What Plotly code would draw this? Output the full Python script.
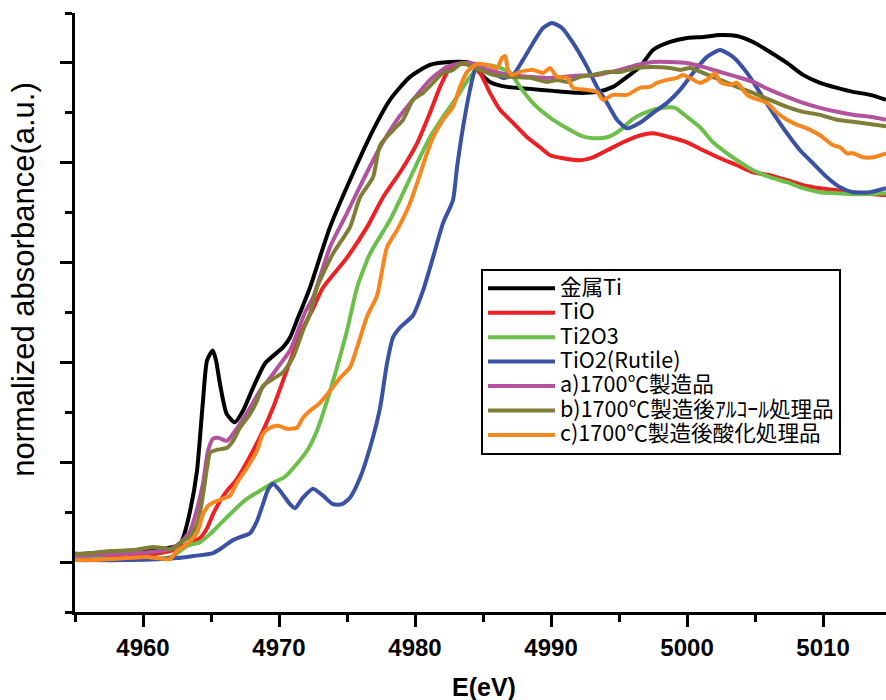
import plotly.graph_objects as go

# ---------------- data (energy in eV, normalized absorbance) ----------------
E_metal = [4955, 4958.3, 4961.8, 4962.7, 4962.94, 4963.46, 4963.97, 4964.41, 4964.71, 4965.13,
           4965.37, 4965.66, 4966.15, 4966.76, 4967.35, 4968.09, 4968.97, 4970.29, 4970.81, 4971.40,
           4971.91, 4972.28, 4973.75, 4975.44, 4976.91, 4978.16, 4979.63, 4981.10, 4982.57, 4984.04,
           4984.78, 4985.51, 4986.76, 4988.46, 4990.15, 4992.13, 4993.38, 4994.56, 4995.59, 4996.54,
           4997.50, 4998.75, 5000.0, 5001.18, 5002.43, 5003.68, 5004.85, 5006.10, 5007.35, 5008.53,
           5009.78, 5011.03, 5012.21, 5013.46, 5014.63]
A_metal = [0.016, 0.020, 0.028, 0.034, 0.048, 0.102, 0.183, 0.323, 0.404, 0.424,
           0.404, 0.357, 0.297, 0.280, 0.303, 0.349, 0.398, 0.430, 0.450, 0.490,
           0.524, 0.550, 0.671, 0.779, 0.865, 0.926, 0.972, 0.996, 1.002, 1.000,
           0.980, 0.962, 0.952, 0.948, 0.944, 0.940, 0.942, 0.952, 0.972, 0.992,
           1.026, 1.042, 1.050, 1.052, 1.056, 1.054, 1.042, 1.022, 1.000, 0.976,
           0.960, 0.950, 0.942, 0.936, 0.926]

E_TiO = [4955, 4959.04, 4961.99, 4963.24, 4964.19, 4964.71, 4965.15, 4965.66, 4966.18, 4966.76,
         4967.28, 4968.09, 4968.82, 4969.56, 4970.29, 4971.03, 4971.76, 4972.50, 4973.24, 4975.0,
         4976.47, 4977.65, 4978.90, 4980.15, 4981.10, 4981.84, 4982.57, 4983.31, 4984.04, 4984.78,
         4985.51, 4986.25, 4987.21, 4988.24, 4989.19, 4989.93, 4990.88, 4992.13, 4993.09, 4994.12,
         4995.29, 4996.32, 4997.50, 4998.75, 5000.0, 5001.18, 5002.43, 5003.68, 5004.85, 5006.10,
         5007.35, 5008.53, 5009.78, 5011.03, 5012.21, 5014.63]
A_TiO = [0.008, 0.010, 0.022, 0.036, 0.048, 0.068, 0.096, 0.122, 0.143, 0.161,
         0.183, 0.223, 0.263, 0.309, 0.363, 0.418, 0.468, 0.508, 0.550, 0.610,
         0.671, 0.731, 0.781, 0.839, 0.900, 0.952, 0.990, 0.998, 0.996, 0.980,
         0.940, 0.906, 0.880, 0.851, 0.831, 0.815, 0.809, 0.805, 0.811, 0.825,
         0.841, 0.853, 0.859, 0.851, 0.841, 0.825, 0.809, 0.795, 0.781, 0.775,
         0.765, 0.755, 0.749, 0.745, 0.741, 0.735]

E_Ti2O3 = [4955, 4961.99, 4963.24, 4964.19, 4964.93, 4965.66, 4966.62, 4967.65, 4968.60, 4969.56,
           4970.44, 4971.32, 4972.06, 4972.79, 4973.53, 4974.26, 4975.0, 4975.74, 4976.69, 4978.16,
           4979.12, 4980.15, 4981.10, 4982.06, 4983.09, 4984.04, 4984.78, 4985.29, 4986.03, 4986.99,
           4987.72, 4988.46, 4989.19, 4990.15, 4991.18, 4992.13, 4993.09, 4994.12, 4995.07, 4996.03,
           4997.06, 4998.24, 4999.12, 5000.0, 5000.96, 5001.91, 5002.94, 5003.90, 5004.85, 5006.10,
           5007.35, 5008.53, 5009.78, 5011.03, 5012.21, 5014.63]
A_Ti2O3 = [0.008, 0.010, 0.032, 0.040, 0.056, 0.076, 0.102, 0.127, 0.143, 0.159,
           0.171, 0.197, 0.223, 0.263, 0.323, 0.390, 0.464, 0.550, 0.618, 0.685,
           0.739, 0.799, 0.851, 0.892, 0.932, 0.972, 0.994, 0.996, 0.992, 0.980,
           0.952, 0.926, 0.906, 0.886, 0.869, 0.855, 0.849, 0.851, 0.865, 0.888,
           0.902, 0.910, 0.910, 0.892, 0.871, 0.841, 0.819, 0.801, 0.785, 0.771,
           0.761, 0.749, 0.741, 0.739, 0.737, 0.739]

E_TiO2 = [4955, 4959.04, 4962.5, 4963.68, 4965.15, 4965.88, 4966.62, 4967.35, 4967.87, 4968.38,
          4968.82, 4969.19, 4969.56, 4970.07, 4970.81, 4971.18, 4971.76, 4972.50, 4973.24, 4973.97,
          4974.63, 4975.22, 4975.96, 4976.69, 4977.43, 4977.94, 4978.38, 4978.90, 4979.85, 4980.59,
          4981.32, 4982.06, 4982.79, 4983.09, 4983.53, 4984.04, 4984.41, 4984.78, 4985.0, 4985.74,
          4986.47, 4987.21, 4987.94, 4988.68, 4989.41, 4990.07, 4990.81, 4991.62, 4992.65, 4993.38,
          4994.12, 4994.85, 4995.59, 4996.54, 4997.50, 4998.53, 4999.49, 5000.44, 5001.47, 5002.43,
          5003.38, 5004.41, 5005.37, 5006.32, 5007.35, 5008.31, 5009.26, 5010.29, 5011.25, 5012.21,
          5013.46, 5014.63]
A_TiO2 = [0.004, 0.004, 0.008, 0.012, 0.018, 0.030, 0.044, 0.052, 0.058, 0.082,
          0.116, 0.145, 0.157, 0.143, 0.116, 0.108, 0.129, 0.147, 0.133, 0.116,
          0.116, 0.129, 0.169, 0.229, 0.309, 0.398, 0.450, 0.470, 0.494, 0.544,
          0.610, 0.679, 0.725, 0.791, 0.871, 0.946, 0.986, 0.998, 0.990, 0.980,
          0.970, 0.976, 1.006, 1.040, 1.070, 1.080, 1.070, 1.040, 0.992, 0.952,
          0.920, 0.886, 0.869, 0.880, 0.900, 0.920, 0.946, 0.980, 1.012, 1.026,
          1.012, 0.980, 0.940, 0.900, 0.859, 0.825, 0.799, 0.771, 0.751, 0.741,
          0.741, 0.749]

E_a = [4955, 4958.31, 4960.51, 4961.99, 4962.72, 4963.46, 4963.97, 4964.41, 4964.78, 4965.15,
       4965.51, 4966.18, 4966.62, 4967.13, 4967.87, 4968.60, 4969.34, 4970.29, 4970.81, 4971.32,
       4971.91, 4972.50, 4973.75, 4975.0, 4976.18, 4977.43, 4978.68, 4979.85, 4981.10, 4982.35,
       4983.53, 4984.41, 4985.15, 4986.99, 4989.71, 4991.62, 4993.38, 4995.07, 4996.32, 4997.50,
       4998.75, 5000.0, 5001.18, 5002.43, 5003.68, 5004.85, 5006.10, 5007.35, 5008.53, 5009.78,
       5011.03, 5012.21, 5013.46, 5014.63]
A_a = [0.012, 0.016, 0.020, 0.026, 0.038, 0.062, 0.106, 0.157, 0.223, 0.247,
       0.249, 0.243, 0.257, 0.277, 0.309, 0.343, 0.369, 0.404, 0.424, 0.458,
       0.500, 0.530, 0.631, 0.699, 0.765, 0.831, 0.886, 0.926, 0.966, 0.992,
       1.000, 0.998, 0.988, 0.976, 0.970, 0.974, 0.976, 0.986, 0.996, 1.002,
       1.002, 1.000, 0.992, 0.982, 0.972, 0.962, 0.946, 0.932, 0.920, 0.910,
       0.902, 0.896, 0.892, 0.886]

E_b = [4955, 4955.37, 4957.57, 4959.26, 4960.74, 4961.47, 4962.21, 4962.72, 4963.46, 4963.97,
       4964.34, 4964.71, 4964.93, 4965.44, 4966.18, 4966.62, 4967.13, 4967.87, 4968.38, 4968.82,
       4969.56, 4970.29, 4971.03, 4971.76, 4972.28, 4972.79, 4973.97, 4975.22, 4975.96, 4976.91,
       4977.43, 4978.38, 4979.12, 4979.85, 4980.59, 4981.32, 4982.06, 4982.79, 4983.46, 4984.04,
       4984.78, 4985.74, 4987.21, 4988.46, 4989.71, 4990.44, 4991.18, 4992.13, 4993.09, 4994.12,
       4995.07, 4996.32, 4997.50, 4998.75, 4999.49, 5000.22, 5001.18, 5002.43, 5003.68, 5004.85,
       5006.10, 5007.35, 5008.53, 5009.78, 5011.03, 5012.21, 5014.63]
A_b = [0.018, 0.016, 0.022, 0.024, 0.030, 0.028, 0.026, 0.038, 0.052, 0.076,
       0.122, 0.189, 0.219, 0.225, 0.229, 0.243, 0.269, 0.297, 0.323, 0.353,
       0.367, 0.380, 0.410, 0.464, 0.498, 0.550, 0.618, 0.671, 0.731, 0.771,
       0.835, 0.865, 0.886, 0.926, 0.940, 0.960, 0.980, 0.986, 1.000, 0.994,
       0.986, 0.976, 0.972, 0.970, 0.962, 0.966, 0.962, 0.972, 0.976, 0.982,
       0.982, 0.990, 0.992, 0.990, 0.986, 0.990, 0.980, 0.966, 0.952, 0.940,
       0.926, 0.912, 0.902, 0.896, 0.886, 0.882, 0.873]

E_c = [4955, 4956.32, 4958.82, 4960.29, 4961.03, 4961.99, 4962.50, 4963.24, 4963.97, 4964.41,
       4964.93, 4965.88, 4966.40, 4966.91, 4967.65, 4968.38, 4968.82, 4969.34, 4969.93, 4970.59,
       4971.32, 4971.76, 4972.28, 4973.01, 4973.75, 4974.49, 4975.22, 4975.74, 4976.47, 4977.21,
       4977.94, 4978.68, 4979.63, 4980.15, 4980.88, 4981.32, 4982.06, 4982.79, 4983.31, 4983.82,
       4984.56, 4985.29, 4986.03, 4986.40, 4986.62, 4986.84, 4987.13, 4987.72, 4988.68, 4989.41,
       4989.93, 4990.44, 4991.18, 4991.62, 4992.65, 4993.38, 4993.82, 4994.56, 4995.59, 4996.54,
       4997.28, 4997.79, 4998.53, 4999.26, 4999.71, 5000.22, 5000.96, 5001.69, 5002.06, 5002.43,
       5003.16, 5003.68, 5004.41, 5004.85, 5005.88, 5006.62, 5007.35, 5008.09, 5008.82, 5009.78,
       5010.74, 5011.25, 5011.76, 5012.21, 5012.94, 5013.68, 5014.63]
A_c = [0.004, 0.004, 0.008, 0.010, 0.008, 0.006, 0.022, 0.036, 0.058, 0.096,
       0.116, 0.127, 0.133, 0.159, 0.189, 0.223, 0.257, 0.269, 0.273, 0.267,
       0.269, 0.289, 0.303, 0.319, 0.343, 0.369, 0.390, 0.430, 0.492, 0.534,
       0.631, 0.665, 0.719, 0.759, 0.819, 0.851, 0.886, 0.912, 0.952, 0.982,
       0.998, 0.996, 0.990, 1.010, 1.014, 0.986, 0.976, 0.982, 0.986, 0.980,
       0.990, 0.972, 0.970, 0.950, 0.946, 0.942, 0.926, 0.936, 0.936, 0.950,
       0.952, 0.960, 0.966, 0.970, 0.976, 0.970, 0.960, 0.970, 0.980, 0.962,
       0.956, 0.960, 0.936, 0.930, 0.920, 0.900, 0.886, 0.876, 0.869, 0.855,
       0.835, 0.831, 0.819, 0.819, 0.811, 0.811, 0.819]

NAMES = ["金属Ti", "TiO", "Ti2O3", "TiO2(Rutile)",
         "a)1700℃製造品", "b)1700℃製造後ｱﾙｺｰﾙ処理品", "c)1700℃製造後酸化処理品"]
COLORS = ["#000000", "#ED2024", "#6CBF4A", "#3A52A3", "#B3529F", "#7E7E36", "#F7861F"]
SERIES = [(E_metal, A_metal), (E_TiO, A_TiO), (E_Ti2O3, A_Ti2O3), (E_TiO2, A_TiO2),
          (E_a, A_a), (E_b, A_b), (E_c, A_c)]

X_TITLE = "E(eV)"
Y_TITLE = "normalized absorbance(a.u.)"

LEGEND_TEXT_PX = 21.6
JP_FONT = "Noto Sans CJK JP"
LAT_FONT = "Liberation Sans, Arial, sans-serif"

fig = go.Figure()
for (xs, ys), name, col in zip(SERIES, NAMES, COLORS):
    fig.add_trace(go.Scatter(
        x=xs, y=ys, mode="lines",
        name=f'<span style="font-size:{LEGEND_TEXT_PX}px">{name}</span>',
        line=dict(color=col, width=4, shape="spline", smoothing=0.6),
        hoverinfo="skip",
    ))

axis_common = dict(
    showline=True, linecolor="black", linewidth=3,
    ticks="outside", tickcolor="black", tickwidth=3, ticklen=12,
    showgrid=False, zeroline=False,
)

fig.update_layout(
    width=886, height=700,
    margin=dict(l=75, r=0, t=13, b=88),
    paper_bgcolor="white", plot_bgcolor="white",
    xaxis=dict(
        range=[4955, 5014.63], tick0=4960, dtick=10,
        tickfont=dict(family=LAT_FONT, size=24, color="black", weight="bold"),
        minor=dict(ticks="outside", ticklen=7, tickwidth=3, tickcolor="black",
                   tick0=4955, dtick=5),
        **axis_common,
    ),
    yaxis=dict(
        range=[-0.1, 1.1], tick0=0, dtick=0.2, showticklabels=False,
        minor=dict(ticks="outside", ticklen=7, tickwidth=3, tickcolor="black",
                   tick0=-0.1, dtick=0.1),
        **axis_common,
    ),
    legend=dict(
        x=0.5006, y=0.5726, xanchor="left", yanchor="top",
        bgcolor="white", bordercolor="black", borderwidth=2,
        font=dict(family=JP_FONT, size=16.5, color="black"),
        itemwidth=67, tracegroupgap=0,
    ),
    showlegend=True,
    annotations=[
        dict(text=X_TITLE, xref="paper", yref="paper", x=0.504, y=-0.125,
             xanchor="center", yanchor="middle", showarrow=False,
             font=dict(family=LAT_FONT, size=25, color="black", weight="bold")),
        dict(text=Y_TITLE, xref="paper", yref="paper", x=-0.063, y=0.556,
             xanchor="center", yanchor="middle", showarrow=False, textangle=-90,
             font=dict(family=LAT_FONT, size=31, color="black")),
    ],
)

# remove the default 8 px page margin so the 886x700 figure fills the window exactly
fig.write_html("out.html",
               config={"displayModeBar": False},
               post_script="document.body.style.margin='0px';document.body.style.overflow='hidden';")
